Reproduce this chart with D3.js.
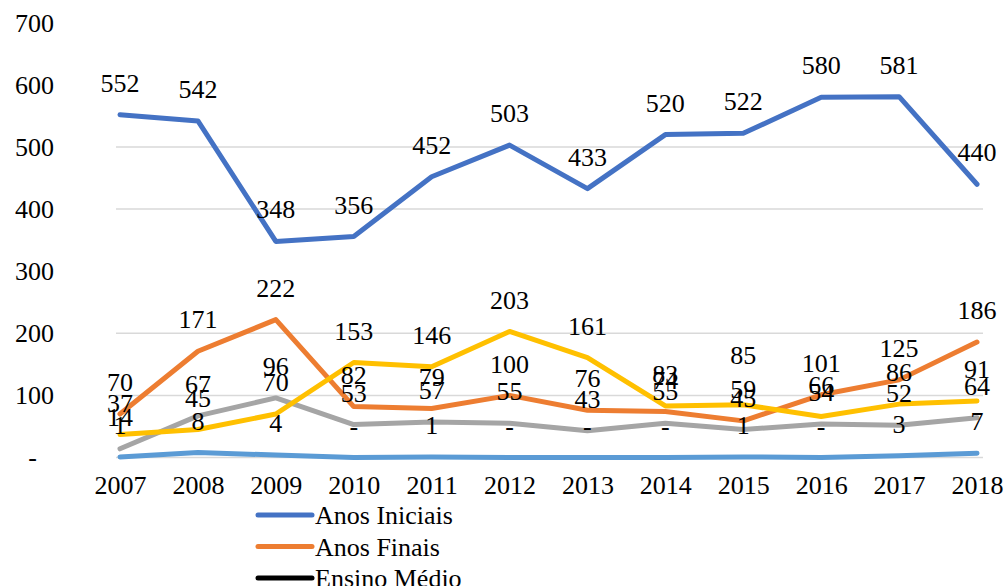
<!DOCTYPE html>
<html>
<head>
<meta charset="utf-8">
<script src="https://cdn.jsdelivr.net/npm/d3@7"></script>
<style>
  body { margin: 0; background: #fff; }
  svg, svg text { font-family: "Liberation Serif", "Times New Roman", Tinos, "DejaVu Serif", "Noto Serif", serif !important; }
</style>
</head>
<body>
<svg width="1006" height="586"></svg>
<script>
const years = ['2007', '2008', '2009', '2010', '2011', '2012', '2013', '2014', '2015', '2016', '2017', '2018']

const anosIniciais = [552, 542, 348, 356, 452, 503, 433, 520, 522, 580, 581, 440]
const anosFinais = [70, 171, 222, 82, 79, 100, 76, 74, 59, 101, 125, 186]
const ensinoMedio = [14, 67, 96, 53, 57, 55, 43, 55, 45, 54, 52, 64]
const serieAmarela = [37, 45, 70, 153, 146, 203, 161, 83, 85, 66, 86, 91]
const serieAzulClara = [1, 8, 4, 0, 1, 0, 0, 0, 1, 0, 3, 7]

const yTicks = [0, 100, 200, 300, 400, 500, 600, 700]
const gridTicks = [0, 100, 200, 400, 500]

const legendNames = ['Anos Iniciais', 'Anos Finais', 'Ensino Médio']
const legendColors = ['#4472C4', '#ED7D31', '#000000']

const series = [
  { name: 'Anos Iniciais', values: anosIniciais, color: '#4472C4' },
  { name: 'Anos Finais', values: anosFinais, color: '#ED7D31' },
  { name: 'Ensino Médio', values: ensinoMedio, color: '#A5A5A5' },
  { name: 'serie4', values: serieAmarela, color: '#FFC000' },
  { name: 'serie5', values: serieAzulClara, color: '#5B9BD5' },
]

// one label in the source was dragged higher to clear the others
const labelShift = { 'serie4|2015': -18 }

const svg = d3.select('svg')

const x = d3.scalePoint().domain(years).range([120, 977])
const y = d3.scaleLinear().domain([0, 700]).range([457.5, 22.8])

// grid
svg.append('g')
  .selectAll('line')
  .data(gridTicks)
  .join('line')
  .attr('x1', 116).attr('x2', 983)
  .attr('y1', d => y(d)).attr('y2', d => y(d))
  .attr('stroke', '#d9d9d9')
  .attr('stroke-width', 1.5)

// y axis
const yAxis = svg.append('g')
  .attr('transform', 'translate(54,0)')
  .call(d3.axisLeft(y).tickValues(yTicks).tickSize(0).tickPadding(0)
    .tickFormat(d => d === 0 ? '-' : d))
yAxis.select('.domain').remove()
yAxis.selectAll('text')
  .attr('font-size', 26)
  .attr('fill', '#000')
  .attr('dy', '0.32em')
yAxis.selectAll('.tick text').filter(d => d === 0).attr('x', -17)

// x axis
const xAxis = svg.append('g')
  .attr('transform', 'translate(0,476)')
  .call(d3.axisBottom(x).tickSize(0).tickPadding(0))
xAxis.select('.domain').remove()
xAxis.selectAll('text')
  .attr('font-size', 26)
  .attr('fill', '#000')
  .attr('dy', '0.71em')

// lines
const line = d3.line()
  .x((d, i) => x(years[i]))
  .y(d => y(d))

svg.append('g')
  .selectAll('path')
  .data(series)
  .join('path')
  .attr('d', d => line(d.values))
  .attr('fill', 'none')
  .attr('stroke', d => d.color)
  .attr('stroke-width', 5)
  .attr('stroke-linejoin', 'round')
  .attr('stroke-linecap', 'round')

// data labels
const labels = series.flatMap(s => s.values.map((v, i) => ({
  v, year: years[i], shift: labelShift[s.name + '|' + years[i]] || 0
})))
svg.append('g')
  .selectAll('text')
  .data(labels)
  .join('text')
  .attr('x', d => x(d.year))
  .attr('y', d => y(d.v) - 32 + d.shift)
  .attr('dy', '0.35em')
  .attr('text-anchor', 'middle')
  .attr('font-size', 26)
  .attr('fill', '#000')
  .text(d => d.v === 0 ? '-' : d.v)

// legend
const legend = svg.append('g')
  .selectAll('g')
  .data(legendNames)
  .join('g')
  .attr('transform', (d, i) => 'translate(0,' + (515 + i * 31.5) + ')')

legend.append('line')
  .attr('x1', 258).attr('x2', 312)
  .attr('stroke', (d, i) => legendColors[i])
  .attr('stroke-width', 5)
  .attr('stroke-linecap', 'round')

legend.append('text')
  .attr('x', 315)
  .attr('dy', '0.35em')
  .attr('font-size', 26)
  .attr('fill', '#000')
  .text(d => d)
</script>
</body>
</html>
